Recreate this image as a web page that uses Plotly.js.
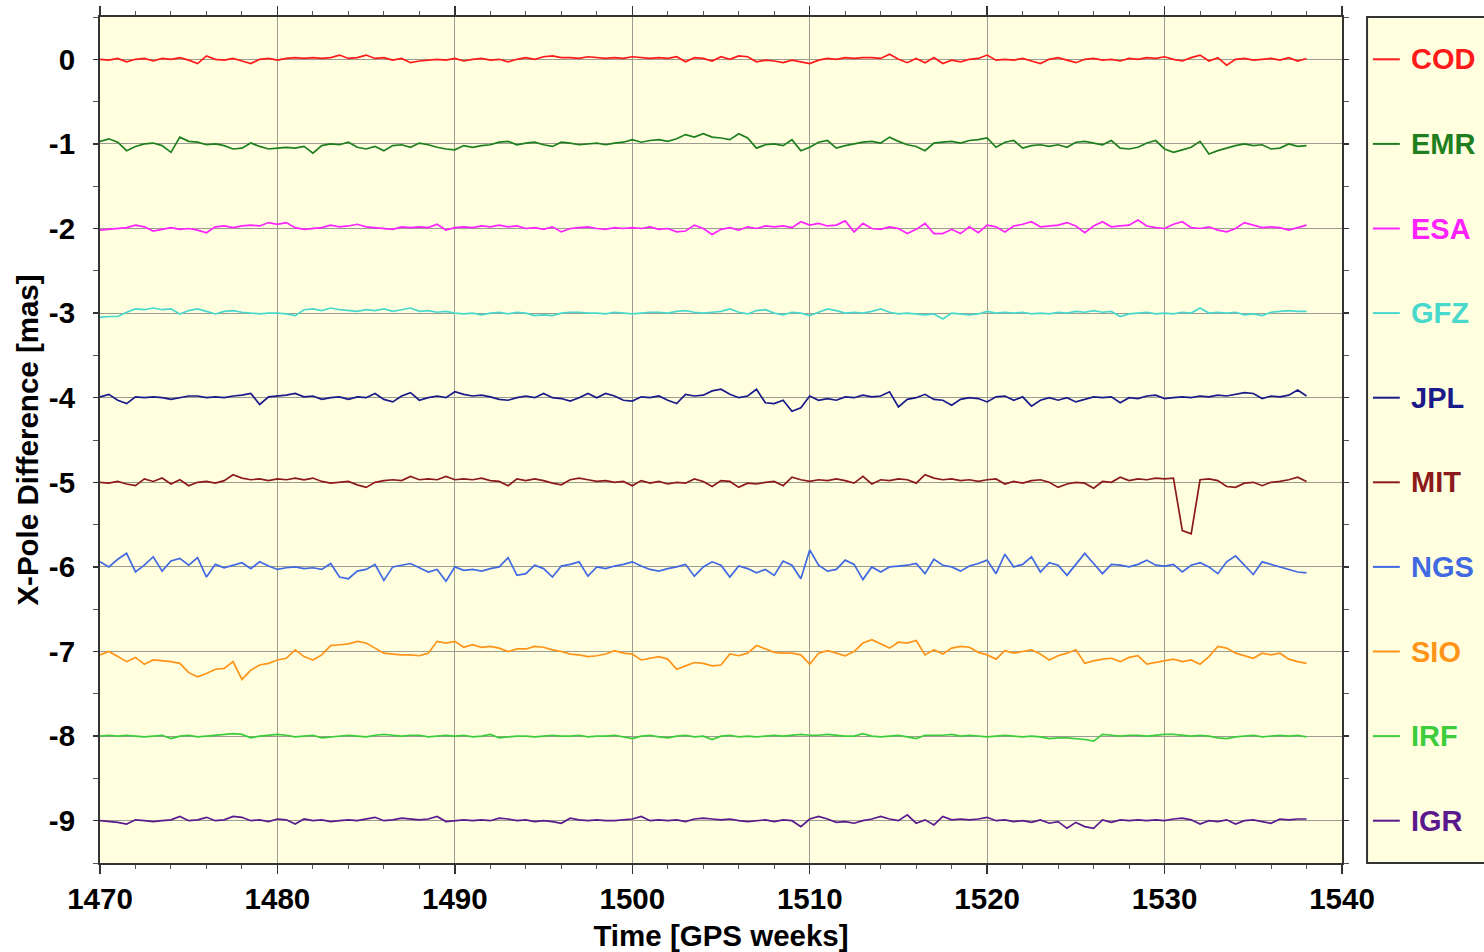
<!DOCTYPE html>
<html><head><meta charset="utf-8">
<script src="https://cdn.plot.ly/plotly-3.0.1.min.js"></script>
<style>html,body{margin:0;padding:0;background:#fff}#chart{width:1484px;height:952px}</style>
</head><body><div id="chart"></div>
<script>
// Analysis centers and their plot offsets (mas)
const centers = ['COD','EMR','ESA','GFZ','JPL','MIT','NGS','SIO','IRF','IGR'];
const offsets = [0,-1,-2,-3,-4,-5,-6,-7,-8,-9];
const colors = ['#ff1a1a','#1f7f1f','#ff22ff','#48d8cc','#1a1a8a','#8c1a1a','#4169e1','#ff9419','#3ccc3c','#5a1a8e'];

const yTickVals = [0,-1,-2,-3,-4,-5,-6,-7,-8,-9];
const yTickText = ['0','-1','-2','-3','-4','-5','-6','-7','-8','-9'];
const xTickVals = [1470,1480,1490,1500,1510,1520,1530,1540];
const xTickText = ['1470','1480','1490','1500','1510','1520','1530','1540'];

// GPS weeks sampled every half week, 1470.0 .. 1538.0
const weeks = [];
for (let i = 0; i < 137; i++) weeks.push(1470 + i * 0.5);

// X-pole differences (mas)
const cod = [0.00,-0.01,0.01,-0.03,0.00,0.01,-0.02,0.01, 0.00,0.02,-0.01,-0.05,0.04,0.00,-0.01,0.01, -0.02,-0.05,0.00,0.01,-0.01,0.01,0.02,0.01, 0.02,0.01,0.02,0.05,0.01,0.02,0.05,0.01, 0.02,-0.01,0.01,-0.04,-0.02,-0.01,0.00,-0.01, 0.01,-0.02,0.00,0.01,-0.01,0.00,-0.03,0.00,
 0.02,0.00,0.03,0.04,0.02,0.02,0.01,0.03, 0.02,0.01,0.02,0.01,0.03,0.02,0.01,0.02, 0.01,0.03,-0.03,0.02,0.01,-0.02,0.03,0.00, 0.04,0.03,-0.03,-0.01,-0.02,-0.04,-0.01,-0.03, -0.05,-0.01,0.01,0.00,0.02,0.01,0.02,0.02, 0.01,0.06,0.00,-0.04,0.01,-0.04,0.02,
 -0.05,-0.01,-0.03,0.00,0.01,0.05,-0.01,0.00, -0.01,0.01,-0.02,-0.05,0.00,0.02,-0.01,-0.04, 0.00,0.01,-0.01,0.00,-0.02,0.01,0.00,0.02, 0.01,0.03,0.00,-0.02,0.02,0.05,-0.02,0.02, -0.07,0.00,0.01,-0.01,0.00,0.01,-0.01,0.02, -0.02,0.01];
const emr = [0.03,0.06,0.02,-0.08,-0.03,0.00,0.01,-0.02, -0.10,0.08,0.03,0.02,-0.01,0.00,-0.02,-0.06, -0.05,0.01,-0.03,-0.06,-0.05,-0.04,-0.05,-0.03, -0.11,-0.02,0.00,-0.01,0.02,-0.04,-0.06,-0.03, -0.08,-0.02,-0.01,-0.04,0.01,-0.01,-0.04,-0.06, -0.07,-0.02,-0.04,-0.02,-0.01,0.02,0.03,-0.01,
 0.01,0.02,-0.01,-0.03,0.02,0.01,-0.01,0.00, 0.01,-0.01,0.01,0.02,0.05,0.02,0.04,0.05, 0.03,0.06,0.11,0.08,0.12,0.08,0.07,0.05, 0.12,0.07,-0.05,-0.01,0.00,-0.02,0.05,-0.08, -0.04,0.02,0.04,-0.05,-0.02,0.00,0.02,0.03, 0.01,0.08,0.03,-0.01,-0.03,-0.08,0.01,
 0.02,0.03,0.01,0.04,0.05,0.07,-0.04,0.02, 0.04,-0.05,-0.02,-0.01,-0.03,-0.01,-0.04,0.02, 0.03,0.01,-0.01,0.04,-0.05,-0.06,-0.04,0.01, 0.04,-0.06,-0.10,-0.07,-0.04,0.03,-0.12,-0.08, -0.05,-0.02,0.00,-0.02,-0.01,-0.06,-0.05,0.00, -0.03,-0.02];
const esa = [-0.02,-0.01,0.00,0.01,0.04,0.02,-0.03,-0.01, 0.01,-0.01,0.00,-0.02,-0.05,0.02,0.03,0.01, 0.03,0.04,0.03,0.07,0.05,0.07,0.01,-0.01, 0.00,0.01,0.04,0.02,0.03,0.05,0.02,0.01, 0.00,-0.01,0.02,0.01,0.02,0.01,0.05,-0.02, 0.01,0.02,0.01,0.03,0.02,0.04,0.02,0.03,
 0.00,0.01,-0.01,0.02,-0.04,0.00,0.01,0.02, 0.00,-0.01,0.01,0.00,0.01,0.00,0.02,-0.01, 0.00,-0.04,-0.03,0.04,0.00,-0.07,-0.01,0.01, -0.02,0.02,0.00,0.03,0.02,0.03,0.01,0.08, 0.04,0.06,0.03,0.04,0.09,-0.04,0.06,0.00, -0.01,0.02,0.00,-0.06,-0.01,0.06,-0.06,
 -0.06,-0.01,-0.06,0.02,-0.05,0.04,0.02,-0.04, 0.03,0.05,0.08,0.02,0.03,0.04,0.07,0.03, -0.05,0.03,0.08,0.02,0.03,0.04,0.10,0.03, 0.01,0.00,0.05,0.08,0.01,0.00,0.02,-0.02, -0.04,0.00,0.07,0.04,0.01,0.02,0.01,-0.02, 0.01,0.04];
const gfz = [-0.05,-0.04,-0.04,0.01,0.05,0.04,0.06,0.04, 0.05,-0.01,0.03,0.05,0.02,-0.01,0.02,0.03, 0.01,0.00,-0.01,0.00,0.00,-0.01,-0.03,0.04, 0.05,0.03,0.06,0.04,0.03,0.02,0.04,0.03, 0.05,0.02,0.04,0.06,0.02,0.03,0.01,0.02, 0.00,-0.01,0.00,-0.02,0.00,0.01,-0.01,0.01,
 0.00,-0.03,-0.02,-0.03,0.00,0.01,0.01,0.00, 0.00,-0.01,0.01,0.00,-0.01,0.00,0.01,0.01, 0.00,0.02,0.03,0.01,0.00,0.01,0.02,0.05, 0.01,-0.01,0.03,0.04,0.00,-0.02,0.01,0.00, -0.03,0.01,0.05,0.03,0.00,0.01,0.00,0.02, 0.05,0.01,-0.01,0.00,-0.01,-0.02,-0.01,
 -0.07,0.00,-0.01,-0.02,-0.01,0.02,0.00,0.01, 0.00,0.01,-0.01,0.00,-0.01,0.01,0.00,0.02, 0.01,0.03,0.01,0.02,-0.04,-0.01,0.00,0.01, -0.01,0.00,-0.01,0.01,0.00,0.06,0.00,0.01, 0.00,0.01,-0.02,-0.01,-0.03,0.01,0.02,0.03, 0.02,0.02];
const jpl = [0.01,0.04,-0.03,-0.07,0.01,0.00,0.01,0.00, -0.02,0.00,0.02,0.02,0.00,0.01,0.00,0.02, 0.03,0.05,-0.08,0.01,0.02,0.03,0.05,0.01, 0.02,-0.02,0.00,0.01,-0.02,0.01,0.00,0.05, -0.02,-0.05,0.02,0.06,-0.03,0.00,0.02,0.00, 0.07,0.04,0.02,0.03,0.01,-0.02,-0.03,0.00,
 0.02,0.00,0.05,0.00,-0.01,-0.04,0.00,0.05, 0.00,0.05,0.02,-0.03,-0.04,0.01,0.00,0.02, -0.03,-0.07,0.04,0.02,0.03,0.08,0.10,0.04, 0.00,0.02,0.10,-0.06,-0.07,-0.03,-0.16,-0.12, 0.02,-0.03,-0.01,-0.03,0.01,0.00,0.03,0.01, 0.02,0.07,-0.11,-0.02,0.00,0.04,-0.02,
 -0.03,-0.09,-0.02,0.00,-0.01,-0.05,0.01,0.02, -0.03,0.01,-0.10,-0.03,0.00,-0.03,0.00,-0.05, -0.02,0.01,0.00,0.01,-0.06,0.00,-0.01,0.02, 0.03,-0.01,0.00,0.01,0.00,0.02,0.01,0.03, 0.02,0.04,0.06,0.05,-0.01,0.02,0.01,0.03, 0.09,0.02];
const mit = [0.00,-0.01,0.01,-0.02,-0.04,0.04,0.01,0.05, -0.02,0.03,-0.04,0.00,0.01,-0.01,0.02,0.09, 0.05,0.03,0.04,0.02,0.04,0.03,0.05,0.03, 0.05,0.01,-0.01,0.00,0.01,-0.03,-0.06,0.00, 0.02,0.03,0.02,0.07,0.03,0.04,0.03,0.07, 0.03,0.04,0.03,0.05,0.02,0.01,-0.04,0.04,
 0.02,0.04,0.02,-0.01,-0.03,0.03,0.05,0.03, 0.01,0.02,0.00,0.01,-0.04,0.02,-0.01,0.01, -0.02,0.00,-0.01,0.04,0.01,-0.05,0.02,0.01, -0.06,-0.01,-0.02,0.00,0.01,-0.04,0.06,0.03, 0.01,0.03,0.02,0.04,0.02,-0.01,0.07,-0.02, 0.03,0.02,0.04,0.03,-0.01,0.09,0.05,
 0.03,0.04,0.02,0.03,0.01,0.03,0.04,-0.02, 0.01,-0.01,0.02,0.03,0.00,-0.06,-0.02,0.00, -0.01,-0.07,0.01,0.00,0.06,0.02,0.04,0.03, 0.05,0.04,0.05,-0.57,-0.61,0.03,0.04,0.02, -0.05,-0.06,-0.01,0.00,-0.04,0.00,0.01,0.03, 0.06,0.01];
const ngs = [0.06,0.00,0.09,0.16,-0.06,0.02,0.12,-0.05, 0.07,0.10,0.02,0.11,-0.12,0.03,-0.01,0.02, 0.05,-0.02,0.06,0.01,-0.03,-0.01,0.00,-0.02, -0.01,-0.03,0.04,-0.12,-0.14,-0.05,-0.03,0.03, -0.16,0.00,0.02,0.04,-0.01,-0.06,-0.03,-0.17, 0.00,-0.04,-0.03,-0.05,-0.02,0.00,0.11,-0.10,
 -0.08,0.02,-0.02,-0.12,0.01,0.03,0.06,-0.11, 0.00,-0.02,0.01,0.03,0.06,0.01,-0.03,-0.05, -0.02,0.00,0.03,-0.11,0.00,0.06,0.02,-0.12, 0.01,-0.02,-0.07,-0.03,-0.10,0.07,0.02,-0.14, 0.20,0.02,-0.05,-0.03,0.08,0.03,-0.15,0.00, -0.06,0.00,0.01,0.02,0.04,-0.08,0.09,
 0.02,0.00,-0.05,0.01,0.04,0.08,-0.08,0.15, 0.00,0.03,0.12,-0.06,0.05,0.02,-0.10,0.03, 0.16,0.04,-0.08,0.03,0.02,0.00,0.03,0.08, 0.02,0.01,0.03,-0.06,0.02,0.05,0.00,-0.08, 0.06,0.13,0.02,-0.09,0.06,0.03,0.00,-0.03, -0.06,-0.07];
const sio = [-0.04,0.00,-0.06,-0.12,-0.07,-0.15,-0.10,-0.11, -0.12,-0.14,-0.25,-0.30,-0.26,-0.21,-0.20,-0.12, -0.33,-0.22,-0.16,-0.14,-0.10,-0.08,0.02,-0.06, -0.10,-0.04,0.07,0.08,0.09,0.12,0.10,0.04, -0.02,-0.03,-0.04,-0.04,-0.05,-0.02,0.12,0.10, 0.12,0.05,0.08,0.05,0.06,0.04,0.00,0.03,
 0.03,0.06,0.05,0.02,0.00,-0.03,-0.04,-0.06, -0.05,-0.03,0.01,-0.02,-0.03,-0.10,-0.08,-0.06, -0.09,-0.21,-0.17,-0.13,-0.14,-0.17,-0.16,-0.03, -0.05,-0.02,0.07,0.03,-0.01,-0.02,-0.02,-0.04, -0.15,-0.02,0.01,-0.02,-0.05,0.00,0.10,0.14, 0.09,0.04,0.11,0.10,0.13,-0.04,0.02,
 -0.03,0.04,0.06,0.05,-0.01,-0.04,-0.09,0.01, -0.02,0.00,0.02,-0.03,-0.10,-0.05,-0.02,0.02, -0.14,-0.11,-0.09,-0.08,-0.12,-0.07,-0.05,-0.15, -0.13,-0.11,-0.09,-0.12,-0.10,-0.15,-0.06,0.06, 0.04,-0.02,-0.05,-0.08,-0.02,-0.04,-0.02,-0.09, -0.12,-0.14];
const irf = [0.00,0.01,0.00,0.01,0.00,-0.01,0.00,0.01, -0.03,0.00,0.01,-0.01,0.00,0.01,0.02,0.03, 0.02,-0.02,0.00,0.01,0.02,0.01,-0.01,0.00, 0.01,-0.02,-0.01,0.00,0.01,0.00,-0.01,0.01, 0.02,0.01,0.00,0.01,0.01,-0.01,0.00,0.01, 0.00,0.01,-0.01,0.00,0.02,-0.02,-0.01,0.00,
 0.00,-0.01,0.00,0.01,0.00,0.00,0.01,-0.01, 0.00,0.00,0.01,-0.01,-0.03,0.00,0.01,-0.01, -0.02,0.00,0.01,-0.01,0.00,-0.04,0.00,0.01, -0.01,0.00,-0.01,0.00,0.01,0.00,0.01,0.02, 0.01,0.01,0.02,0.01,0.00,0.00,0.03,0.00, -0.01,0.00,0.01,-0.01,-0.03,0.01,0.01,
 0.01,0.02,0.00,0.01,0.00,-0.01,0.00,0.01, 0.00,-0.01,0.00,-0.01,-0.03,-0.02,-0.02,-0.03, -0.04,-0.06,0.02,0.01,0.00,0.01,0.01,0.00, 0.01,0.02,0.02,0.01,0.00,0.01,0.00,-0.02, -0.03,-0.01,0.00,0.01,-0.01,0.00,0.01,0.00, 0.01,-0.01];
const igr = [0.00,-0.01,-0.02,-0.04,0.01,0.00,-0.01,0.00, 0.01,0.05,0.00,0.01,0.04,0.00,0.01,0.05, 0.04,0.00,0.01,-0.01,0.02,0.01,-0.04,0.02, 0.00,0.01,-0.01,0.00,0.01,0.00,0.02,0.04, 0.00,0.01,0.03,0.02,0.01,0.02,0.05,-0.01, 0.00,0.01,0.00,0.01,0.00,0.03,0.02,0.00,
 0.01,-0.01,0.00,-0.01,-0.03,0.03,0.01,0.00, 0.01,0.00,0.00,0.01,0.02,0.05,0.00,0.01, 0.00,0.01,-0.01,0.02,0.03,0.02,0.01,0.02, 0.00,-0.01,0.00,0.01,-0.01,0.01,0.00,-0.07, 0.02,0.05,0.02,-0.02,-0.01,-0.03,0.00,0.02, 0.05,0.02,0.00,0.07,-0.03,0.01,-0.05,
 0.05,0.01,0.02,0.01,0.02,0.04,0.00,0.01, -0.01,0.00,-0.02,0.01,-0.03,-0.01,-0.09,-0.02, -0.07,-0.09,0.01,-0.02,0.01,0.00,0.01,0.00, 0.01,0.00,0.02,0.03,0.01,-0.04,0.00,-0.01, 0.01,-0.04,0.00,0.01,-0.01,-0.03,0.02,0.01, 0.02,0.02];

const series = [cod, emr, esa, gfz, jpl, mit, ngs, sio, irf, igr];

const FONT = 'Liberation Sans, Arial, Helvetica, sans-serif';
const traces = [];
const annotations = [];
series.forEach((vals, i) => {
  traces.push({
    x: weeks, y: vals.map(v => v + offsets[i]),
    type: 'scatter', mode: 'lines',
    line: {color: colors[i], width: 1.7},
    name: centers[i], showlegend: false, hoverinfo: 'skip'
  });
  // legend key
  traces.push({
    x: [0.05, 0.28], y: [offsets[i], offsets[i]],
    xaxis: 'x2', yaxis: 'y2', type: 'scatter', mode: 'lines',
    line: {color: colors[i], width: 2}, showlegend: false, hoverinfo: 'skip'
  });
  annotations.push({
    xref: 'x2', yref: 'y2', x: 0.36, y: offsets[i], xanchor: 'left', yanchor: 'middle',
    text: centers[i], showarrow: false,
    font: {family: FONT, size: 29, weight: 'bold', color: colors[i]}
  });
});

const axisFont = {family: FONT, size: 29.5, weight: 'bold', color: '#000'};
const layout = {
  width: 1484, height: 952,
  margin: {l: 100, r: 0, t: 17, b: 89, pad: 0},
  paper_bgcolor: '#ffffff',
  plot_bgcolor: '#ffffe0',
  showlegend: false,
  xaxis: {
    domain: [0, 0.8974], range: [1470, 1540],
    tickvals: xTickVals, ticktext: xTickText,
    ticks: 'outside', ticklen: 9, tickwidth: 1.5, tickcolor: '#333',
    minor: {dtick: 2, tick0: 1470, ticks: 'outside', ticklen: 4, tickwidth: 1, tickcolor: '#555', showgrid: false},
    showline: true, linecolor: '#333', linewidth: 2, mirror: 'allticks',
    showgrid: true, gridcolor: '#9c9c90', gridwidth: 1, zeroline: false,
    tickfont: axisFont,
    title: {text: 'Time [GPS weeks]', font: axisFont, standoff: 13},
    anchor: 'y'
  },
  yaxis: {
    domain: [0, 1], range: [-9.5, 0.5],
    tickvals: yTickVals, ticktext: yTickText,
    ticks: 'outside', ticklen: 5, tickwidth: 1.5, tickcolor: '#333',
    minor: {dtick: 0.5, tick0: 0, ticks: 'outside', ticklen: 5, tickwidth: 1, tickcolor: '#555', showgrid: false},
    showline: true, linecolor: '#333', linewidth: 2, mirror: 'allticks',
    showgrid: true, gridcolor: '#9c9c90', gridwidth: 1, zeroline: false,
    tickfont: axisFont, ticklabelstandoff: 12,
    title: {text: 'X-Pole Difference [mas]', font: axisFont, standoff: 2},
    anchor: 'x'
  },
  xaxis2: {domain: [0.9155, 1], range: [0, 1], visible: false, anchor: 'y2', fixedrange: true},
  yaxis2: {domain: [0, 1], range: [-9.5, 0.5], visible: false, anchor: 'x2', fixedrange: true},
  shapes: [{
    type: 'rect', xref: 'paper', yref: 'paper', x0: 0.9155, x1: 1.1, y0: 0, y1: 1,
    line: {color: '#333', width: 2}, fillcolor: 'rgba(0,0,0,0)'
  }],
  annotations: annotations
};

Plotly.newPlot('chart', traces, layout, {displayModeBar: false, staticPlot: true});
</script>
</body></html>
